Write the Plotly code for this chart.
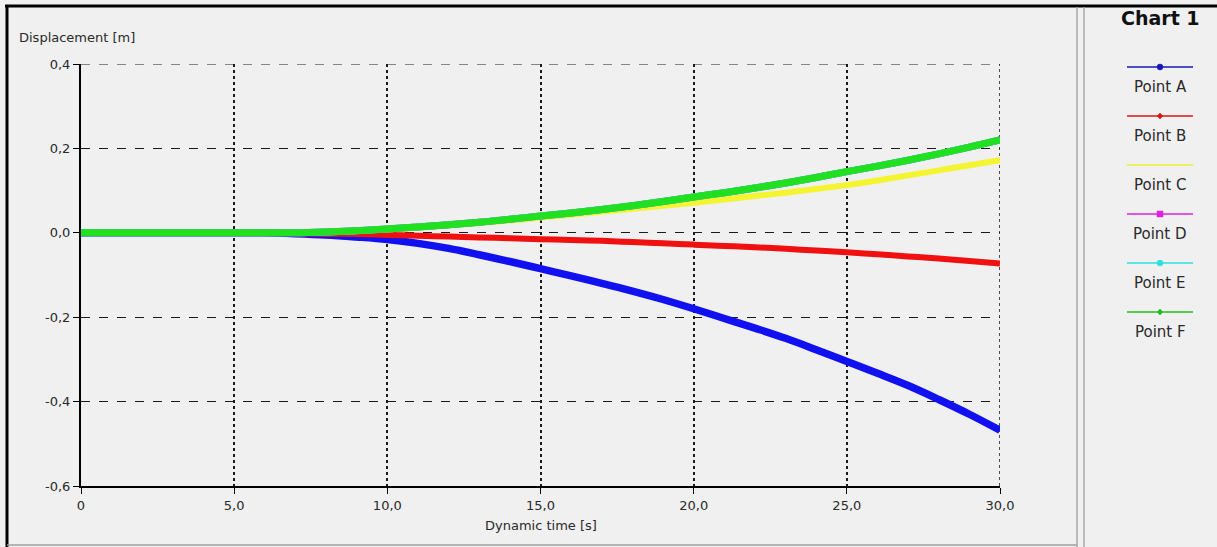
import plotly.graph_objects as go

W, H = 1217, 547

# Dynamic time [s] and displacement [m] of each monitored point
time_s = list(range(0, 31))
point_a = [0, 0, 0, 0, 0, 0, 0, -0.002, -0.005, -0.01, -0.016, -0.025, -0.037, -0.052, -0.068, -0.085,
           -0.102, -0.12, -0.138, -0.158, -0.18, -0.203, -0.226, -0.25, -0.277, -0.305, -0.333, -0.362,
           -0.395, -0.43, -0.468]
point_b = [0, 0, 0, 0, 0, 0, 0, -0.001, -0.002, -0.003, -0.005, -0.007, -0.009, -0.011, -0.013, -0.015,
           -0.017, -0.019, -0.022, -0.025, -0.028, -0.031, -0.034, -0.038, -0.042, -0.046, -0.051, -0.056,
           -0.061, -0.067, -0.073]
point_c = [0, 0, 0, 0, 0, 0, 0, 0, 0.001, 0.004, 0.008, 0.012, 0.017, 0.023, 0.029, 0.036,
           0.043, 0.05, 0.057, 0.064, 0.071, 0.079, 0.087, 0.095, 0.104, 0.113, 0.124, 0.136,
           0.148, 0.16, 0.172]
point_d = [0, 0, 0, 0, 0, 0, 0, 0, 0.002, 0.005, 0.009, 0.014, 0.019, 0.025, 0.032, 0.04,
           0.047, 0.055, 0.064, 0.074, 0.085, 0.095, 0.106, 0.118, 0.131, 0.145, 0.158, 0.172,
           0.187, 0.203, 0.22]
point_e = [0, 0, 0, 0, 0, 0, 0, 0, 0.002, 0.005, 0.009, 0.014, 0.019, 0.025, 0.032, 0.04,
           0.047, 0.055, 0.064, 0.074, 0.085, 0.095, 0.106, 0.118, 0.131, 0.145, 0.158, 0.172,
           0.187, 0.203, 0.22]
point_f = [0, 0, 0, 0, 0, 0, 0, 0, 0.002, 0.005, 0.009, 0.014, 0.019, 0.025, 0.032, 0.04,
           0.047, 0.055, 0.064, 0.074, 0.085, 0.095, 0.106, 0.118, 0.131, 0.145, 0.158, 0.172,
           0.187, 0.203, 0.22]

series_names = ["Point A", "Point B", "Point C", "Point D", "Point E", "Point F"]
series_values = [point_a, point_b, point_c, point_d, point_e, point_f]
series_colors = ["#1010f0", "#f01010", "#f4f430", "#f010f0", "#10e8e8", "#20e020"]
series_widths = [7.5, 6, 6, 7, 7, 7]
legend_line_colors = ["#1818b8", "#d81818", "#f0f030", "#e020e0", "#30e0e0", "#20c020"]
legend_symbols = ["circle", "diamond", None, "square", "circle", "diamond"]

x_tick_vals = [0, 5, 10, 15, 20, 25, 30]
x_tick_text = ["0", "5,0", "10,0", "15,0", "20,0", "25,0", "30,0"]
y_tick_vals = [-0.6, -0.4, -0.2, 0.0, 0.2, 0.4]
y_tick_text = ["-0,6", "-0,4", "-0,2", "0,0", "0,2", "0,4"]
x_range = [0, 30]
y_range = [-0.6, 0.4]


def px_x(p):
    return p / W


def px_y(p):
    return 1 - p / H


fig = go.Figure()
for name, vals, col, lw in zip(series_names, series_values, series_colors, series_widths):
    fig.add_trace(go.Scatter(
        x=time_s, y=vals, name=name, mode="lines",
        line=dict(color=col, width=lw, shape="spline"),
        showlegend=False, hoverinfo="x+y+name",
    ))

font_family = "DejaVu Sans, Verdana, sans-serif"
text_col = "#2a2a2a"

fig.update_layout(
    width=W, height=H,
    margin=dict(l=0, r=0, t=0, b=0, autoexpand=False),
    paper_bgcolor="#f0f0f0",
    plot_bgcolor="#f0f0f0",
    font=dict(family=font_family, size=13, color=text_col),
    showlegend=False,
    xaxis=dict(
        domain=[px_x(81), px_x(1000)], range=x_range,
        tickvals=x_tick_vals, ticktext=x_tick_text,
        showline=True, linecolor="black", linewidth=2,
        ticks="outside", ticklen=6, tickcolor="black", tickwidth=1,
        showgrid=True, gridcolor="#1a1a1a", gridwidth=1.5, griddash="dot",
        zeroline=False, automargin=False,
        tickfont=dict(size=13, color=text_col),
    ),
    yaxis=dict(
        domain=[px_y(486), px_y(64)], range=y_range,
        tickvals=y_tick_vals, ticktext=y_tick_text,
        showline=True, linecolor="black", linewidth=2,
        ticks="outside", ticklen=6, tickcolor="black", tickwidth=1,
        showgrid=True, gridcolor="#1a1a1a", gridwidth=1.2, griddash="dash",
        zeroline=False, automargin=False,
        tickfont=dict(size=13, color=text_col),
    ),
)

shapes = []
annotations = []

# Grid lines on the top and right edges of the plotting area
shapes.append(dict(type="line", xref="x", yref="y", layer="below",
                   x0=x_range[0], x1=x_range[1], y0=y_range[1], y1=y_range[1],
                   line=dict(color="#1a1a1a", width=1.2, dash="dash")))
shapes.append(dict(type="line", xref="x", yref="y", layer="below",
                   x0=x_range[1], x1=x_range[1], y0=y_range[0], y1=y_range[1],
                   line=dict(color="#1a1a1a", width=1.5, dash="dot")))

# Axis titles
annotations.append(dict(x=px_x(17), y=px_y(38), xref="paper", yref="paper",
                        text="Displacement [m]", showarrow=False,
                        xanchor="left", yanchor="middle",
                        font=dict(size=13, color=text_col)))
annotations.append(dict(x=px_x(541), y=px_y(525), xref="paper", yref="paper",
                        text="Dynamic time [s]", showarrow=False,
                        xanchor="center", yanchor="middle",
                        font=dict(size=13, color=text_col)))

# Window frame and side panel separators
shapes.append(dict(type="line", xref="paper", yref="paper",
                   x0=px_x(5), x1=1, y0=px_y(6), y1=px_y(6),
                   line=dict(color="black", width=3)))
shapes.append(dict(type="line", xref="paper", yref="paper",
                   x0=px_x(7), x1=px_x(7), y0=px_y(5), y1=0,
                   line=dict(color="black", width=3)))
shapes.append(dict(type="line", xref="paper", yref="paper",
                   x0=px_x(7), x1=px_x(1077), y0=px_y(545), y1=px_y(545),
                   line=dict(color="#a0a0a0", width=1.5)))
for sx in (1077, 1084):
    shapes.append(dict(type="line", xref="paper", yref="paper",
                       x0=px_x(sx), x1=px_x(sx), y0=px_y(7), y1=0,
                       line=dict(color="#a8a8a8", width=1.5)))

# Side panel title
annotations.append(dict(x=px_x(1160), y=px_y(18), xref="paper", yref="paper",
                        text="<b>Chart 1</b>", showarrow=False,
                        xanchor="center", yanchor="middle",
                        font=dict(size=19, color="#111111")))

# Side panel legend: line sample with marker, label underneath
for i, (name, col, sym) in enumerate(zip(series_names, legend_line_colors, legend_symbols)):
    ly = 67 + 49 * i
    shapes.append(dict(type="line", xref="paper", yref="paper",
                       x0=px_x(1127), x1=px_x(1193), y0=px_y(ly), y1=px_y(ly),
                       line=dict(color=col, width=1.3)))
    cx = 1160
    if sym == "circle":
        shapes.append(dict(type="circle", xref="paper", yref="paper",
                           x0=px_x(cx - 3), x1=px_x(cx + 3), y0=px_y(ly + 3), y1=px_y(ly - 3),
                           fillcolor=col, line=dict(color=col, width=0.5)))
    elif sym == "square":
        shapes.append(dict(type="rect", xref="paper", yref="paper",
                           x0=px_x(cx - 3), x1=px_x(cx + 3), y0=px_y(ly + 3), y1=px_y(ly - 3),
                           fillcolor=col, line=dict(color=col, width=0.5)))
    elif sym == "diamond":
        path = (f"M {px_x(cx)} {px_y(ly - 3)} L {px_x(cx + 3)} {px_y(ly)} "
                f"L {px_x(cx)} {px_y(ly + 3)} L {px_x(cx - 3)} {px_y(ly)} Z")
        shapes.append(dict(type="path", xref="paper", yref="paper", path=path,
                           fillcolor=col, line=dict(color=col, width=0.5)))
    annotations.append(dict(x=px_x(1160), y=px_y(ly + 20), xref="paper", yref="paper",
                            text=name, showarrow=False, xanchor="center", yanchor="middle",
                            font=dict(size=15, color=text_col)))

fig.update_layout(shapes=shapes, annotations=annotations)

fig.write_html("out.html")
